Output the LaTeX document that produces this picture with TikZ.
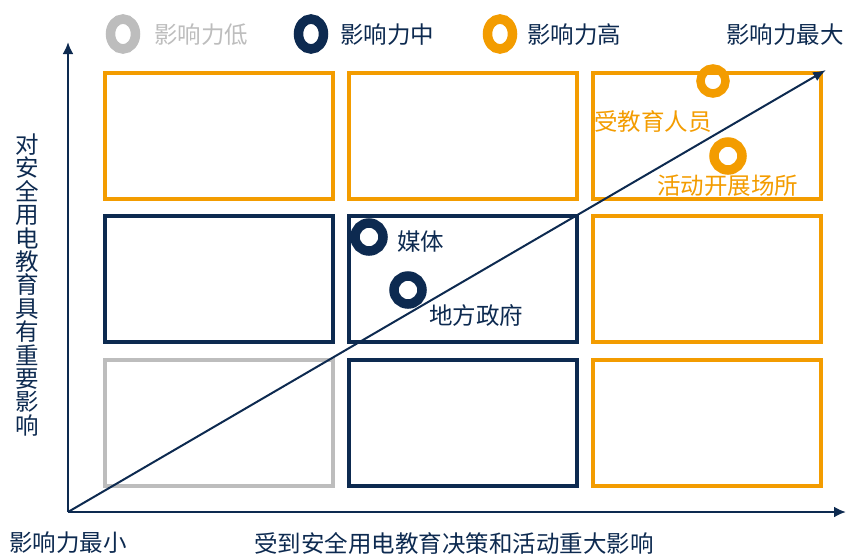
\documentclass[tikz,border=0pt]{standalone}
\usepackage{fontspec}
\setmainfont{Noto Sans CJK SC}
\definecolor{navy}{HTML}{0D2A50}
\definecolor{amber}{HTML}{F39C00}
\definecolor{ash}{HTML}{BDBDBD}
\usetikzlibrary{arrows.meta, shapes.geometric}
\tikzset{
  cell/.style={draw, line width=4pt, minimum width=228pt, minimum height=126pt, inner sep=0pt},
  ring/.style={draw, circle, line width=9.5pt, minimum size=28pt, inner sep=0pt},
  keyring/.style={draw, ellipse, line width=9.5pt, minimum width=25pt, minimum height=30pt, inner sep=0pt},
  lab/.style={inner sep=0pt, font=\fontsize{23.5}{24}\selectfont},
  axis/.style={navy, line width=2.5pt, -{Latex[length=12pt,width=11pt]}},
}
\begin{document}
\begin{tikzpicture}[x=1pt, y=-1pt]
\useasboundingbox (0,0) rectangle (846,557);
% cells of the grid
\node[cell, amber] (C_0_0) at (219,136) {};
\node[cell, amber] (C_1_0) at (463,136) {};
\node[cell, amber] (C_2_0) at (707,136) {};
\node[cell, navy] (C_0_1) at (219,279) {};
\node[cell, navy] (C_1_1) at (463,279) {};
\node[cell, amber] (C_2_1) at (707,279) {};
\node[cell, ash] (C_0_2) at (219,423) {};
\node[cell, navy] (C_1_2) at (463,423) {};
\node[cell, amber] (C_2_2) at (707,423) {};
% axes
\coordinate (O) at (68,512);
\coordinate (Y) at (68,42);
\coordinate (X) at (846,512);
\coordinate (D) at (826,70);
\draw[axis] (O) -- (Y);
\draw[axis] (O) -- (X);
\draw[navy, line width=2pt, -{Latex[length=13pt,width=10pt]}] (O) -- (D);
% legend
\node[keyring, ash] (L_low) at (123,34) {};
\node[lab, ash, anchor=west] (T_low) at (154,35) {影响力低};
\node[keyring, navy] (L_mid) at (311,34) {};
\node[lab, navy, anchor=west] (T_mid) at (340,35) {影响力中};
\node[keyring, amber] (L_high) at (500,34) {};
\node[lab, navy, anchor=west] (T_high) at (527,35) {影响力高};
\node[lab, navy, anchor=east] (T_max) at (844,35) {影响力最大};
% points
\node[ring, amber, minimum size=25pt, line width=8.5pt] (R_1) at (713,81) {};
\node[lab, amber, anchor=west] (T_1) at (594,122) {受教育人员};
\node[ring, amber] (R_2) at (728,156) {};
\node[lab, amber, anchor=west] (T_2) at (657,186) {活动开展场所};
\node[ring, navy] (R_3) at (369,237) {};
\node[lab, navy, anchor=west] (T_3) at (397,242) {媒体};
\node[ring, navy] (R_4) at (408,290) {};
\node[lab, navy, anchor=west] (T_4) at (429,316) {地方政府};
% axis titles
\node[lab, navy, anchor=west] (T_min) at (9,543) {影响力最小};
\node[lab, navy] (T_x) at (454,543) {受到安全用电教育决策和活动重大影响};
\node[lab, navy, align=center, font=\fontsize{23.5}{23.4}\selectfont] (T_y) at (27,285)
  {对\\安\\全\\用\\电\\教\\育\\具\\有\\重\\要\\影\\响};
\end{tikzpicture}
\end{document}
